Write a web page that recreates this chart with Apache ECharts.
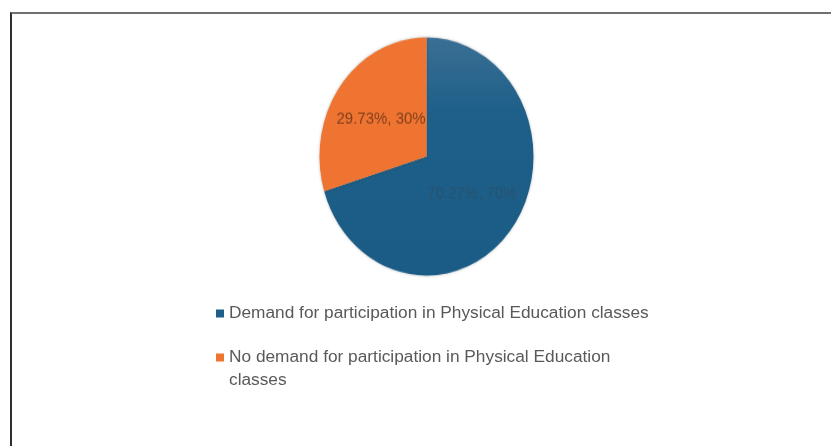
<!DOCTYPE html>
<html>
<head>
<meta charset="utf-8">
<script src="https://cdn.jsdelivr.net/npm/echarts@6/dist/echarts.min.js"></script>
<style>
  html, body { margin: 0; padding: 0; background: #ffffff; }
  #wrap { position: relative; width: 831px; height: 446px; overflow: hidden; background: #ffffff; }
  #frame { position: absolute; left: 10px; top: 12px; width: 900px; height: 500px;
           border-top: 2px solid #6f6f6f; border-left: 2px solid #2e2e2e; }
  #pie { position: absolute; left: 0; top: 0; width: 831px; height: 446px;
         transform-origin: 426.5px 156.5px; transform: scale(1, 1.113); }
  #legend { position: absolute; left: 0; top: 0; width: 831px; height: 446px; }
</style>
</head>
<body>
<div id="wrap">
  <div id="frame"></div>
  <div id="pie"></div>
  <div id="legend"></div>
</div>
<script>
// Survey answers (percent of respondents)
const categories = [
  'Demand for participation in Physical Education classes',
  'No demand for participation in Physical Education classes'
];
const shares = [70.27, 29.73];
// Legend text as it wraps on screen
const legendLines = [
  ['Demand for participation in Physical Education classes'],
  ['No demand for participation in Physical Education', 'classes']
];
const sliceColors = ['#1d5f88', '#ef7432'];
const labelColors = ['#29536f', '#83401b'];

const FONT = '"Liberation Sans", Arial, sans-serif';
const LINE_H = 23;

const pieData = categories.map((name, i) => ({
  name: name,
  value: shares[i],
  itemStyle: {
    color: i === 0
      ? new echarts.graphic.LinearGradient(0, 0, 0, 1, [
          { offset: 0, color: '#3b6f94' },
          { offset: 0.3, color: '#1f608a' },
          { offset: 1, color: '#1a5c85' }
        ])
      : sliceColors[i]
  },
  label: { color: labelColors[i] }
}));

// Pie drawn in its own layer, stretched slightly vertically
const pieChart = echarts.init(document.getElementById('pie'), null, { renderer: 'canvas' });
pieChart.setOption({
  animation: false,
  series: [{
    type: 'pie',
    center: [426.5, 156.5],
    radius: 107,
    startAngle: 90,
    clockwise: true,
    percentPrecision: 0,
    avoidLabelOverlap: false,
    data: pieData,
    itemStyle: { borderWidth: 0, shadowBlur: 3, shadowColor: 'rgba(0,0,0,0.25)' },
    label: {
      show: true,
      position: 'inside',
      formatter: '{c}%, {d}%',
      fontFamily: FONT,
      fontSize: 15
    },
    labelLine: { show: false },
    emphasis: { disabled: true }
  }]
});

// Legend layer; wrapped entries keep the marker beside their first line
const legendChart = echarts.init(document.getElementById('legend'), null, { renderer: 'canvas' });
legendChart.setOption({
  animation: false,
  color: sliceColors,
  legend: {
    orient: 'vertical',
    left: 216,
    top: 302,
    padding: 0,
    itemWidth: 8,
    itemHeight: 8,
    itemGap: -2,
    icon: 'rect',
    selectedMode: false,
    formatter: function (name) {
      const lines = legendLines[categories.indexOf(name)];
      const pad = lines.length > 1 ? new Array(lines.length - 1).fill('') : [];
      return pad.concat(lines).join('\n');
    },
    textStyle: { fontFamily: FONT, fontSize: 17.3, color: '#595959', lineHeight: LINE_H },
    data: categories
  },
  series: [{
    type: 'pie',
    radius: 0,
    silent: true,
    label: { show: false },
    data: categories.map((name, i) => ({ name: name, value: shares[i], itemStyle: { color: sliceColors[i] } }))
  }]
});
</script>
</body>
</html>
